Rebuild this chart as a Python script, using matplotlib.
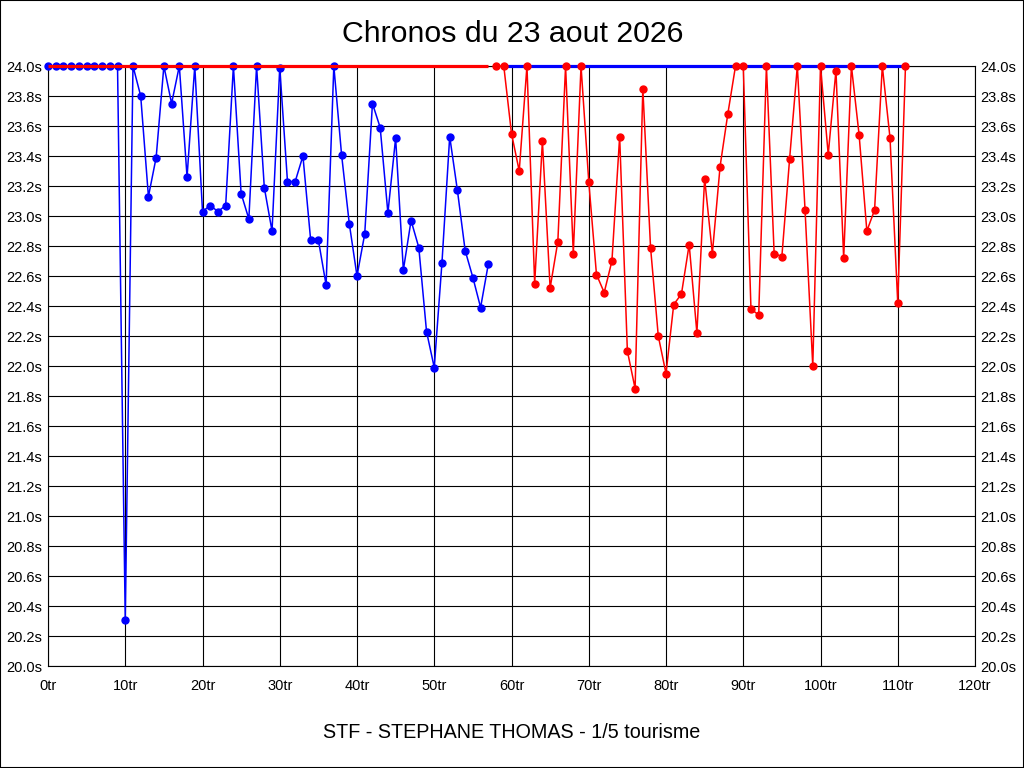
import matplotlib
matplotlib.use("Agg")
import matplotlib.pyplot as plt
from matplotlib.patches import Rectangle

plt.rcParams['font.family'] = ['Liberation Sans', 'DejaVu Sans']

title = "Chronos du 23 aout 2026"
footer = "STF - STEPHANE THOMAS - 1/5 tourisme"

blue_laps = list(range(0, 58))
blue_times = [24.0] * 10 + [
    20.31, 24.0, 23.80, 23.13, 23.39, 24.0, 23.75, 24.0, 23.26, 24.0,
    23.03, 23.07, 23.03, 23.07, 24.0, 23.15, 22.98, 24.0, 23.19, 22.90,
    23.99, 23.23, 23.23, 23.40, 22.84, 22.84, 22.54, 24.0, 23.41, 22.95,
    22.60, 22.88, 23.75, 23.59, 23.02, 23.52, 22.64, 22.97, 22.79, 22.23,
    21.99, 22.69, 23.53, 23.17, 22.77, 22.59, 22.39, 22.68,
]

red_laps = list(range(58, 112))
red_times = [
    24.0, 24.0, 23.55, 23.30, 24.0, 22.55, 23.50, 22.52, 22.83, 24.0,
    22.75, 24.0, 23.23, 22.61, 22.49, 22.70, 23.53, 22.10, 21.85, 23.85,
    22.79, 22.20, 21.95, 22.41, 22.48, 22.81, 22.22, 23.25, 22.75, 23.33,
    23.68, 24.0, 24.0, 22.38, 22.34, 24.0, 22.75, 22.73, 23.38, 24.0,
    23.04, 22.00, 24.0, 23.41, 23.97, 22.72, 24.0, 23.54, 22.90, 23.04,
    24.0, 23.52, 22.42, 24.0,
]

# reference lines at the 24.0s cap
red_cap_laps = [0, 57]
blue_cap_laps = [59, 111]
cap_time = 24.0

x_ticks = list(range(0, 121, 10))
x_labels = [f"{v}tr" for v in x_ticks]
y_ticks = [20.0 + 0.2 * i for i in range(21)]
y_labels = [f"{v:.1f}s" for v in y_ticks]

fig = plt.figure(figsize=(10.24, 7.68), dpi=100)
fig.patch.set_facecolor('white')
ax = fig.add_axes([48 / 1024, 1 - 666 / 768, 927 / 1024, 600 / 768])

ax.plot(blue_laps, blue_times, color='#0000ff', lw=1.1, marker='o',
        markersize=5, zorder=3, clip_on=False)
ax.plot(red_cap_laps, [cap_time] * 2, color='#ff0000', lw=2.3, zorder=4,
        solid_capstyle='butt', clip_on=False)
ax.plot(blue_cap_laps, [cap_time] * 2, color='#0000ff', lw=2.3, zorder=4,
        solid_capstyle='butt', clip_on=False)
ax.plot(red_laps, red_times, color='#ff0000', lw=1.1, marker='o',
        markersize=5, zorder=5, clip_on=False)

ax.set_xlim(0, 120)
ax.set_ylim(20.0, 24.0)
ax.set_xticks(x_ticks)
ax.set_xticklabels(x_labels)
ax.set_yticks(y_ticks)
ax.set_yticklabels(y_labels)
ax.tick_params(axis='both', length=0, labelsize=10.5, colors='black')
ax.tick_params(axis='y', labelleft=True, labelright=True, pad=4)
ax.tick_params(axis='x', pad=9)
ax.grid(True, color='black', lw=0.8)
ax.set_axisbelow(True)
for s in ax.spines.values():
    s.set_color('black')
    s.set_linewidth(0.8)

fig.text(513 / 1024, 1 - 34 / 768, title, ha='center', va='center',
         fontsize=21.8, color='black')
fig.text(512 / 1024, 1 - 733 / 768, footer, ha='center', va='center',
         fontsize=14.2, color='black')

fig.add_artist(Rectangle((0, 0), 1, 1, transform=fig.transFigure,
                         fill=False, edgecolor='black', lw=1.5))

fig.savefig('out.png', dpi=100, facecolor='white')
